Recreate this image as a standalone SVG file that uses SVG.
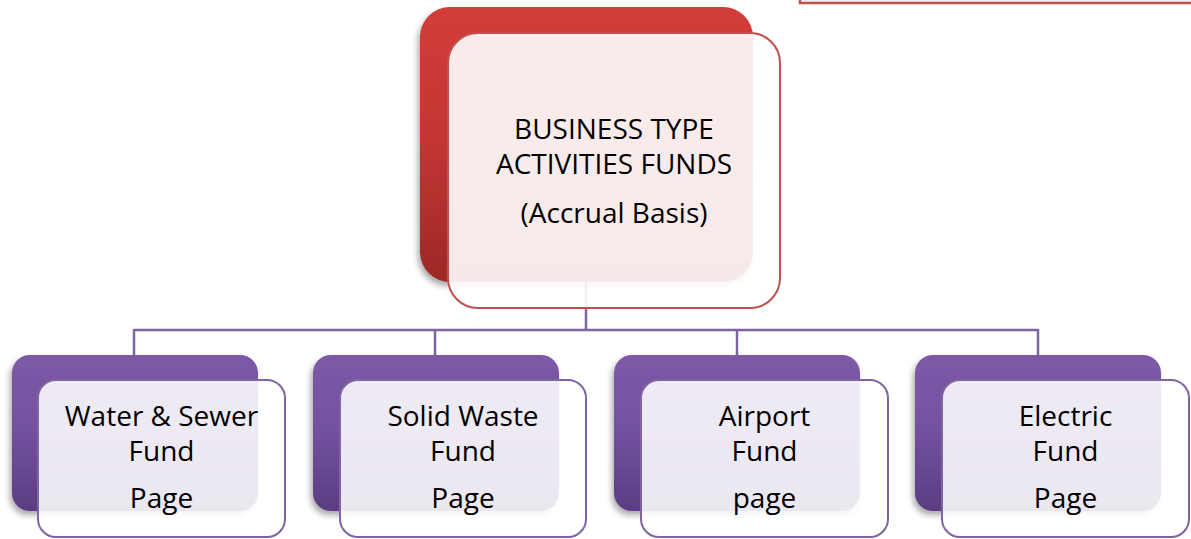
<svg xmlns="http://www.w3.org/2000/svg" width="1191" height="539" viewBox="0 0 1191 539">
  <defs>
    <linearGradient id="redGrad" x1="0" y1="0" x2="0" y2="1">
      <stop offset="0" stop-color="#d23c39"/>
      <stop offset="0.45" stop-color="#c63634"/>
      <stop offset="1" stop-color="#9c2927"/>
    </linearGradient>
    <linearGradient id="purpleGrad" x1="0" y1="0" x2="0" y2="1">
      <stop offset="0" stop-color="#7d59a6"/>
      <stop offset="0.45" stop-color="#7352a0"/>
      <stop offset="1" stop-color="#5b3d82"/>
    </linearGradient>
    <filter id="shadow" x="-10%" y="-10%" width="125%" height="125%">
      <feGaussianBlur in="SourceAlpha" stdDeviation="3"/>
      <feOffset dx="-2" dy="4" result="b"/>
      <feComponentTransfer><feFuncA type="linear" slope="0.35"/></feComponentTransfer>
      <feMerge><feMergeNode/><feMergeNode in="SourceGraphic"/></feMerge>
    </filter>
  </defs>
  <style>
    .back-red { fill: url(#redGrad); filter: url(#shadow); }
    .front-red { fill: #ffffff; fill-opacity: 0.9; stroke: #c0504d; stroke-width: 2; }
    .back-purple { fill: url(#purpleGrad); filter: url(#shadow); }
    .front-purple { fill: #ffffff; fill-opacity: 0.88; stroke: #8064a2; stroke-width: 2; }
    .conn { fill: none; stroke: #8064a2; stroke-width: 2.5; }
    .label { font-family: "Open Sans", "Noto Sans", sans-serif; font-size: 28px; fill: #000; text-anchor: middle; }
    .note { fill: #f6eeee; stroke: #c0504d; stroke-width: 2.5; }
  </style>

  <!-- partial note box at the top edge -->
  <rect class="note" x="800" y="-20" width="400" height="23"/>

  <!-- connectors -->
  <g id="connectors">
    <path class="conn" d="M586 280 V330"/>
    <path class="conn" d="M134 330 H1038"/>
    <path class="conn" d="M134 329 V356"/>
    <path class="conn" d="M435 329 V356"/>
    <path class="conn" d="M737 329 V356"/>
    <path class="conn" d="M1038 329 V356"/>
  </g>

  <!-- root node -->
  <g id="node-business">
    <rect class="back-red" x="420" y="7" width="333" height="275" rx="30"/>
    <rect class="front-red" x="448" y="33" width="332" height="275" rx="30"/>
    <text class="label" x="614" y="139">BUSINESS TYPE</text>
    <text class="label" x="614" y="174">ACTIVITIES FUNDS</text>
    <text class="label" x="614" y="223">(Accrual Basis)</text>
  </g>

  <g id="node-water">
    <rect class="back-purple" x="12" y="355" width="246" height="156" rx="18"/>
    <rect class="front-purple" x="38" y="380" width="247" height="157" rx="18"/>
    <text class="label" x="161.5" y="426">Water &amp; Sewer</text>
    <text class="label" x="161.5" y="461">Fund</text>
    <text class="label" x="161.5" y="508">Page</text>
  </g>

  <g id="node-solid">
    <rect class="back-purple" x="313" y="355" width="246" height="156" rx="18"/>
    <rect class="front-purple" x="340" y="380" width="246" height="157" rx="18"/>
    <text class="label" x="463" y="426">Solid Waste</text>
    <text class="label" x="463" y="461">Fund</text>
    <text class="label" x="463" y="508">Page</text>
  </g>

  <g id="node-airport">
    <rect class="back-purple" x="614" y="355" width="246" height="156" rx="18"/>
    <rect class="front-purple" x="641" y="380" width="247" height="157" rx="18"/>
    <text class="label" x="764.5" y="426">Airport</text>
    <text class="label" x="764.5" y="461">Fund</text>
    <text class="label" x="764.5" y="508">page</text>
  </g>

  <g id="node-electric">
    <rect class="back-purple" x="915" y="355" width="246" height="156" rx="18"/>
    <rect class="front-purple" x="942" y="380" width="247" height="157" rx="18"/>
    <text class="label" x="1065.5" y="426">Electric</text>
    <text class="label" x="1065.5" y="461">Fund</text>
    <text class="label" x="1065.5" y="508">Page</text>
  </g>
</svg>
